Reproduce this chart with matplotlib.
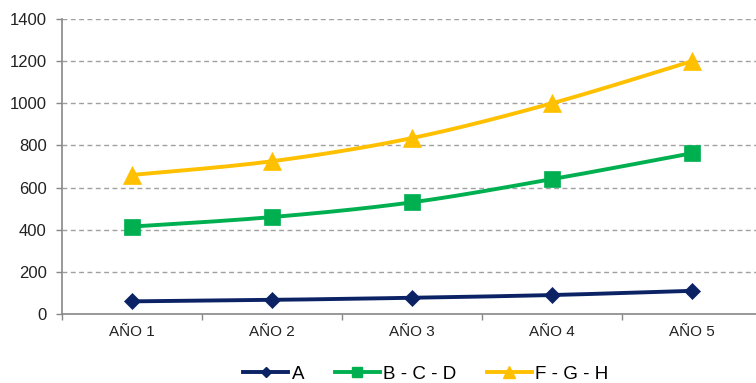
import numpy as np
import matplotlib
matplotlib.use("Agg")
import matplotlib.pyplot as plt
from matplotlib.lines import Line2D

plt.rcParams["font.family"] = ["Liberation Sans", "DejaVu Sans"]

categories = ["AÑO 1", "AÑO 2", "AÑO 3", "AÑO 4", "AÑO 5"]
series_names = ["A", "B - C - D", "F - G - H"]
values_a = [60, 67, 77, 90, 110]
values_bcd = [415, 460, 530, 640, 763]
values_fgh = [660, 725, 835, 1000, 1200]
y_ticks = [0, 200, 400, 600, 800, 1000, 1200, 1400]

colors = ["#0b2264", "#00b050", "#ffc000"]
markers = ["D", "s", "^"]
marker_sizes = [8.5, 11, 13]
legend_marker_sizes = [5.5, 7.5, 8.5]


def smooth(xs, ys, n=40):
    """Bezier smoothing through the points (Catmull-Rom style control points)."""
    xs = np.asarray(xs, float)
    ys = np.asarray(ys, float)
    pts = np.column_stack([xs, ys])
    out = []
    t = np.linspace(0, 1, n)[:, None]
    for i in range(len(pts) - 1):
        p0 = pts[max(i - 1, 0)]
        p1 = pts[i]
        p2 = pts[i + 1]
        p3 = pts[min(i + 2, len(pts) - 1)]
        c1 = p1 + (p2 - p0) / 6.0
        c2 = p2 - (p3 - p1) / 6.0
        seg = ((1 - t) ** 3) * p1 + 3 * ((1 - t) ** 2) * t * c1 + 3 * (1 - t) * t ** 2 * c2 + t ** 3 * p2
        out.append(seg if i == 0 else seg[1:])
    seg = np.vstack(out)
    return seg[:, 0], seg[:, 1]


fig = plt.figure(figsize=(7.56, 3.83), dpi=100)
ax = fig.add_axes([62 / 756, 69 / 383, 700 / 756, 295 / 383])

x = np.arange(len(categories))
for vals, c, m, ms in zip([values_a, values_bcd, values_fgh], colors, markers, marker_sizes):
    sx, sy = smooth(x, vals)
    ax.plot(sx, sy, color=c, lw=2.8, solid_capstyle="round", zorder=3, clip_on=False)
    ax.plot(x, vals, linestyle="none", marker=m, markersize=ms, color=c,
            markeredgecolor=c, markeredgewidth=0.5, zorder=4, clip_on=False)

ax.set_xlim(-0.5, len(categories) - 0.5)
ax.set_ylim(0, 1400)
ax.set_yticks(y_ticks)
ax.set_yticklabels([str(v) for v in y_ticks], fontsize=12, color="#222222")
ax.set_xticks(x)
ax.set_xticklabels(categories, fontsize=11, color="#222222")
ax.set_xticks(np.arange(len(categories) + 1) - 0.5, minor=True)
ax.tick_params(axis="x", which="major", length=0, pad=8)
ax.tick_params(axis="x", which="minor", length=4, color="#888888", width=1)
ax.tick_params(axis="y", length=4, color="#888888", width=1, pad=7)

ax.yaxis.grid(True, linestyle=(0, (3.5, 2.5)), color="#a0a0a0", linewidth=1)
ax.set_axisbelow(True)
for side in ["top", "right"]:
    ax.spines[side].set_visible(False)
for side in ["left", "bottom"]:
    ax.spines[side].set_color("#888888")
    ax.spines[side].set_linewidth(1.2)

handles = [Line2D([0], [0], color=c, lw=2.8, marker=m, markersize=ms, markeredgecolor=c)
           for c, m, ms in zip(colors, markers, legend_marker_sizes)]
fig.legend(handles, series_names, loc="center", bbox_to_anchor=(426 / 756, 1 - 374 / 383),
           ncol=3, frameon=False, fontsize=13.5, handlelength=2.4, handletextpad=0.2,
           columnspacing=1.6, borderpad=0)

fig.savefig("out.png", dpi=100)
